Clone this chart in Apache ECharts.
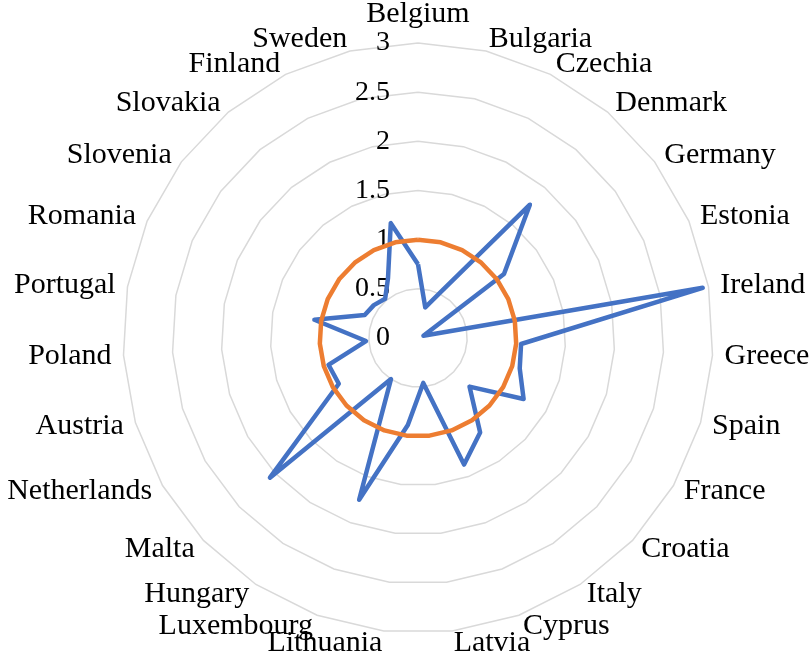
<!DOCTYPE html>
<html>
<head>
<meta charset="utf-8">
<script src="https://cdn.jsdelivr.net/npm/echarts@6/dist/echarts.min.js"></script>
<style>
  html, body { margin: 0; padding: 0; background: #fff; }
  #chart { width: 809px; height: 652px; }
</style>
</head>
<body>
<div id="chart"></div>
<script>
// countries, clockwise from the top
var countries = ['Belgium', 'Bulgaria', 'Czechia', 'Denmark', 'Germany', 'Estonia', 'Ireland',
  'Greece', 'Spain', 'France', 'Croatia', 'Italy', 'Cyprus', 'Latvia', 'Lithuania',
  'Luxembourg', 'Hungary', 'Malta', 'Netherlands', 'Austria', 'Poland', 'Portugal',
  'Romania', 'Slovenia', 'Slovakia', 'Finland', 'Sweden'];
// blue series
var blueValues = [0.75, 0.32, 0.53, 1.77, 1.09, 0.06, 2.94,
  1.05, 1.08, 1.24, 0.72, 1.15, 1.37, 0.46, 0.89,
  1.75, 0.50, 2.07, 0.93, 0.95, 0.53, 1.07,
  0.59, 0.56, 0.52, 0.68, 1.20];
// orange reference series
var orangeValues = [1, 1, 1, 1, 1, 1, 1, 1, 1, 1, 1, 1, 1, 1, 1, 1, 1, 1, 1, 1, 1, 1, 1, 1, 1, 1, 1];
var axisMax = 3;
var axisSplit = 6;

// echarts radar goes counter-clockwise, so keep the first one and flip the rest
function ccw(arr) {
  return [arr[0]].concat(arr.slice(1).reverse());
}

var font = '"Liberation Serif", serif';

var indicators = ccw(countries).map(function (name, i) {
  var ind = { name: name, min: 0, max: axisMax };
  if (i === 0) {
    // only the top axis carries the tick labels
    ind.axisLabel = {
      show: true,
      color: '#000',
      fontFamily: font,
      fontSize: 28,
      margin: 28
    };
  }
  return ind;
});

var chart = echarts.init(document.getElementById('chart'));
chart.setOption({
  animation: false,
  radar: {
    center: [418, 338],
    radius: 295,
    startAngle: 90,
    shape: 'polygon',
    splitNumber: axisSplit,
    indicator: indicators,
    nameGap: 12,
    axisName: {
      color: '#000',
      fontFamily: font,
      fontSize: 30
    },
    axisLine: { show: false },
    axisTick: { show: false },
    axisLabel: { show: false },
    splitArea: { show: false },
    splitLine: {
      lineStyle: { color: '#d9d9d9', width: 1.5 }
    }
  },
  series: [
    {
      type: 'radar',
      symbol: 'none',
      data: [
        {
          value: ccw(blueValues),
          lineStyle: { color: '#4472c4', width: 4.5, join: 'round' }
        },
        {
          value: ccw(orangeValues),
          lineStyle: { color: '#ed7d31', width: 4.5, join: 'round' }
        }
      ]
    }
  ]
});
</script>
</body>
</html>
